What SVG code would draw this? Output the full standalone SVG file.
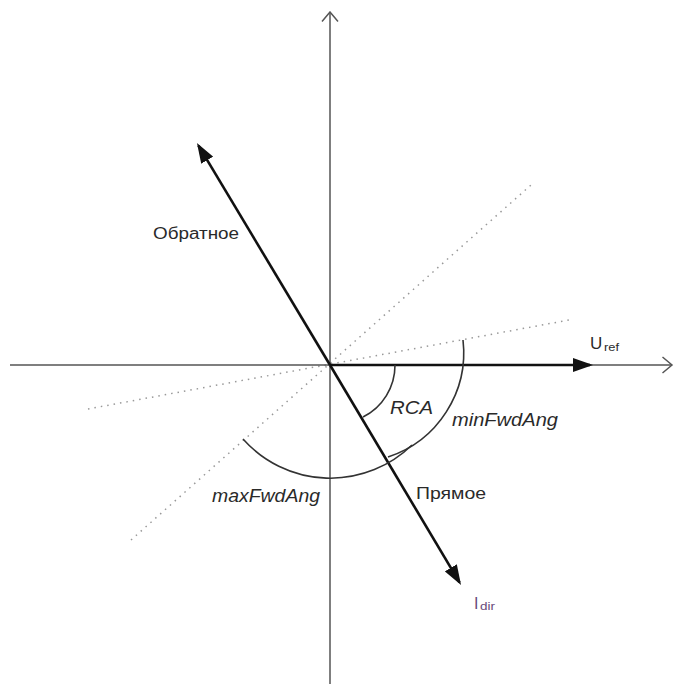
<svg xmlns="http://www.w3.org/2000/svg" width="674" height="684" viewBox="0 0 674 684">
<style>
.axis{stroke:#555;stroke-width:1.5;fill:none}
.vec{stroke:#111;stroke-width:2.6;fill:none}
.dot{stroke:#999;stroke-width:1.5;stroke-dasharray:1.5 5;fill:none}
.arc{stroke:#333;stroke-width:1.6;fill:none}
.lbl{font-family:"Liberation Sans",Arial,sans-serif;fill:#2a2a2a}
.it{font-style:italic}
</style>
<defs>
<marker id="fill" viewBox="0 0 20 14" refX="17" refY="7" markerWidth="20" markerHeight="14" markerUnits="userSpaceOnUse" orient="auto">
<path d="M0,0 L20,7 L0,14 z" fill="#111"/>
</marker>
<marker id="open" viewBox="0 0 12 18" refX="10.5" refY="9" markerWidth="12" markerHeight="18" markerUnits="userSpaceOnUse" orient="auto">
<path d="M1,1 L10.5,9 L1,17" fill="none" stroke="#555" stroke-width="1.5"/>
</marker>
</defs>
<rect width="674" height="684" fill="#fff"/>
<g id="connectors">
<line class="dot" x1="88" y1="409" x2="569" y2="320"/>
<line class="dot" x1="131" y1="540" x2="531" y2="185"/>
<line id="x-axis" class="axis" x1="10" y1="365" x2="672" y2="365" marker-end="url(#open)"/>
<line id="y-axis" class="axis" x1="330" y1="684" x2="330" y2="12" marker-end="url(#open)"/>
<line id="uref-vec" class="vec" x1="330" y1="365" x2="590" y2="365" marker-end="url(#fill)"/>
<line id="obr-vec" class="vec" x1="330" y1="365" x2="198.5" y2="145.6" marker-end="url(#fill)"/>
<line id="idir-vec" class="vec" x1="330" y1="365" x2="459.5" y2="582.4" marker-end="url(#fill)"/>
<path id="rca-arc" class="arc" d="M395,365 A58,58 0 0 1 363,417"/>
<path id="min-arc" class="arc" d="M463,340 A110,110 0 0 1 388,457"/>
<path id="max-arc" class="arc" d="M243,439 A117,117 0 0 0 412,445"/>
</g>
<g id="label-obratnoe"><text class="lbl" x="153" y="239" font-size="16" textLength="86" lengthAdjust="spacingAndGlyphs">Обратное</text></g>
<g id="label-pryamoe"><text class="lbl" x="416" y="499" font-size="16" textLength="70" lengthAdjust="spacingAndGlyphs">Прямое</text></g>
<g id="label-rca"><text class="lbl it" x="390" y="414" font-size="18" textLength="43" lengthAdjust="spacingAndGlyphs">RCA</text></g>
<g id="label-min"><text class="lbl it" x="452" y="426" font-size="18" textLength="106" lengthAdjust="spacingAndGlyphs">minFwdAng</text></g>
<g id="label-max"><text class="lbl it" x="212" y="502" font-size="18" textLength="108" lengthAdjust="spacingAndGlyphs">maxFwdAng</text></g>
<g id="label-uref"><text class="lbl" x="590" y="349" font-size="17" fill="#333">U</text><text class="lbl" x="604" y="351" font-size="11" fill="#555" textLength="15" lengthAdjust="spacingAndGlyphs">ref</text></g>
<g id="label-idir"><text class="lbl" x="474" y="609" font-size="16" style="fill:#6a4a7a">I</text><text class="lbl" x="480" y="610" font-size="11" style="fill:#6a4a7a" textLength="15" lengthAdjust="spacingAndGlyphs">dir</text></g>
</svg>
